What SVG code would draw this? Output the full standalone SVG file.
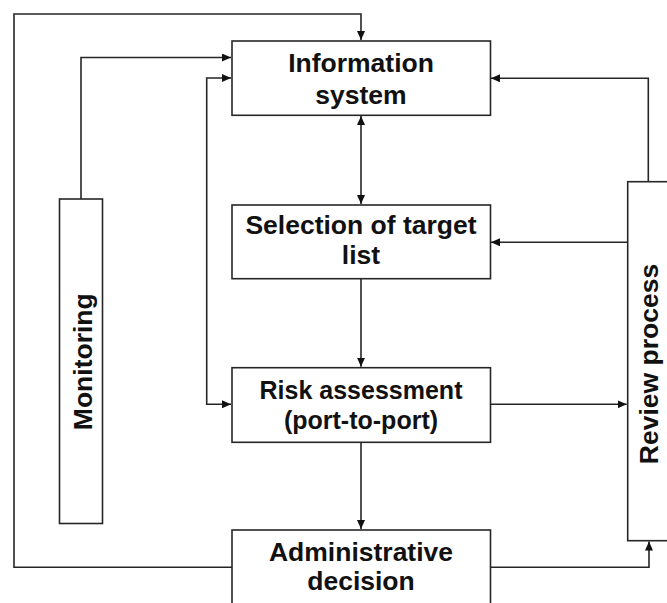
<svg xmlns="http://www.w3.org/2000/svg" width="667" height="603" viewBox="0 0 667 603">
  <defs>
    <style>
      .box { fill: #ffffff; stroke: #262626; stroke-width: 1.6; }
      .lbl { font-family: "Liberation Sans", Arial, sans-serif; font-weight: bold; font-size: 26.5px; fill: #111111; text-anchor: middle; }
      .sm { font-size: 25px; }
      .wire { fill: none; stroke: #262626; stroke-width: 1.6; }
    </style>
    <marker id="arrow" viewBox="0 0 9 8" refX="9" refY="4" markerWidth="9" markerHeight="8" markerUnits="userSpaceOnUse" orient="auto-start-reverse">
      <path d="M0,0 L9,4 L0,8 z" fill="#111111"/>
    </marker>
  </defs>
  <rect width="667" height="603" fill="#ffffff"/>

  <!-- connectors -->
  <g id="connectors" class="wire">
    <!-- outer feedback loop: administrative decision back to information system -->
    <path d="M232,567.3 H14 V14 H361 V40" marker-end="url(#arrow)"/>
    <!-- monitoring to information system -->
    <path d="M81,199 V57.5 H231" marker-end="url(#arrow)"/>
    <!-- information system and risk assessment, both ways -->
    <path d="M231,78 H206.7 V404.3 H231" marker-start="url(#arrow)" marker-end="url(#arrow)"/>
    <!-- information system and selection of target list, both ways -->
    <path d="M361,116 V204" marker-start="url(#arrow)" marker-end="url(#arrow)"/>
    <!-- selection to risk assessment -->
    <path d="M361,278.7 V366.7" marker-end="url(#arrow)"/>
    <!-- risk assessment to administrative decision -->
    <path d="M361,442.3 V529" marker-end="url(#arrow)"/>
    <!-- risk assessment to review process -->
    <path d="M490,404.3 H626.7" marker-end="url(#arrow)"/>
    <!-- review process back to information system -->
    <path d="M648.3,181.7 V78.3 H491" marker-end="url(#arrow)"/>
    <!-- review process back to selection -->
    <path d="M627.7,242.3 H491" marker-end="url(#arrow)"/>
    <!-- administrative decision to review process -->
    <path d="M490,567.3 H649 V541.5" marker-end="url(#arrow)"/>
  </g>

  <g id="information-system">
    <rect class="box" x="232" y="41" width="258.5" height="74.3"/>
    <text class="lbl" x="361" y="72">Information</text>
    <text class="lbl" x="361" y="103.5">system</text>
  </g>

  <g id="selection">
    <rect class="box" x="232" y="205" width="258.5" height="73.7"/>
    <text class="lbl" x="361" y="234.3">Selection of target</text>
    <text class="lbl" x="361" y="264">list</text>
  </g>

  <g id="risk-assessment">
    <rect class="box" x="232" y="367.7" width="258.5" height="74.6"/>
    <text class="lbl sm" x="361" y="399.3">Risk assessment</text>
    <text class="lbl sm" x="361" y="428.5">(port-to-port)</text>
  </g>

  <g id="administrative-decision">
    <rect class="box" x="232" y="530" width="258.5" height="90"/>
    <text class="lbl" x="361" y="561">Administrative</text>
    <text class="lbl" x="361" y="590">decision</text>
  </g>

  <g id="monitoring">
    <rect class="box" x="59.5" y="199" width="43" height="324.5"/>
    <text class="lbl" transform="translate(91.5,361.7) rotate(-90)">Monitoring</text>
  </g>

  <g id="review-process">
    <rect class="box" x="627.7" y="181.7" width="60" height="359"/>
    <text class="lbl" transform="translate(658.3,364) rotate(-90)">Review process</text>
  </g>
</svg>
